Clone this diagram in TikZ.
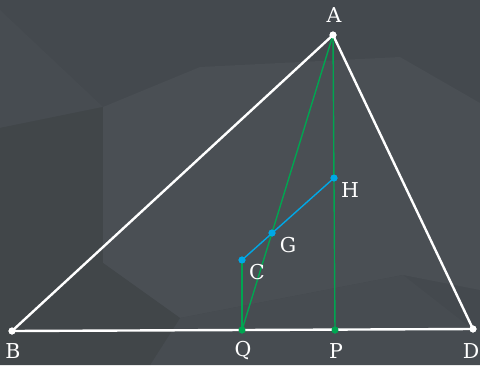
\documentclass[tikz,border=0pt]{standalone}
\usepackage{fontspec}
\setmainfont{DejaVu Serif}
\definecolor{bgbase}{HTML}{44494E}
\definecolor{bglight}{HTML}{4A4F54}
\definecolor{bgmid}{HTML}{474C51}
\definecolor{bgdark}{HTML}{414649}
\definecolor{geogreen}{HTML}{00A651}
\definecolor{geoblue}{HTML}{00A8E6}
\tikzset{
  side/.style={white, line width=2.4pt, line join=round},
  gline/.style={geogreen, line width=1.4pt},
  bline/.style={geoblue, line width=1.4pt},
  wdot/.style={circle, fill=white, inner sep=0pt, minimum size=7pt},
  gdot/.style={circle, fill=geogreen, inner sep=0pt, minimum size=7pt},
  bdot/.style={circle, fill=geoblue, inner sep=0pt, minimum size=7pt},
  lbl/.style={text=white, font=\fontsize{20.5}{20.5}\selectfont, inner sep=0pt}
}
\begin{document}
\begin{tikzpicture}[x=1pt, y=-1pt]
\useasboundingbox (0,0) rectangle (480,365);
% background
\fill[bgbase] (0,0) rectangle (480,365);
\fill[bgmid] (0,10) -- (103,107) -- (0,128) -- cycle;
\fill[bgdark] (0,128) -- (103,107) -- (103,263) -- (0,240) -- cycle;
\fill[bglight] (103,107) -- (200,67) -- (400,57) -- (480,103) -- (480,290) -- (403,275) -- (180,318) -- (103,263) -- cycle;
\fill[bgmid] (180,318) -- (403,275) -- (467,325) -- (480,330) -- (480,365) -- (150,365) -- cycle;
\fill[bgdark] (0,240) -- (103,263) -- (180,318) -- (150,365) -- (0,365) -- cycle;
% points
\node[wdot] (A) at (333,35) {};
\node[wdot] (B) at (12,331) {};
\node[wdot] (D) at (473,329) {};
\node[gdot] (Q) at (242,330) {};
\node[gdot] (P) at (335,330) {};
\node[bdot] (H) at (334,178) {};
\node[bdot] (G) at (272,233) {};
\node[bdot] (C) at (242,260) {};
% lines
\draw[side] (A.center) -- (B.center) -- (D.center) -- cycle;
\draw[gline] (A.center) -- (Q.center);
\draw[gline] (A.center) -- (P.center);
\draw[gline] (C.center) -- (Q.center);
\draw[bline] (C.center) -- (H.center);
% redraw dots on top
\node[wdot] at (A) {};
\node[wdot] at (B) {};
\node[wdot] at (D) {};
\node[gdot] at (Q) {};
\node[gdot] at (P) {};
\node[bdot] at (H) {};
\node[bdot] at (G) {};
\node[bdot] at (C) {};
% labels
\node[lbl] (lA) at (334,15) {A};
\node[lbl] (lB) at (13,351) {B};
\node[lbl] (lD) at (471,351) {D};
\node[lbl] (lQ) at (243,351) {Q};
\node[lbl] (lP) at (336,351) {P};
\node[lbl] (lH) at (350,190) {H};
\node[lbl] (lG) at (288,245) {G};
\node[lbl] (lC) at (257,272) {C};
\end{tikzpicture}
\end{document}
